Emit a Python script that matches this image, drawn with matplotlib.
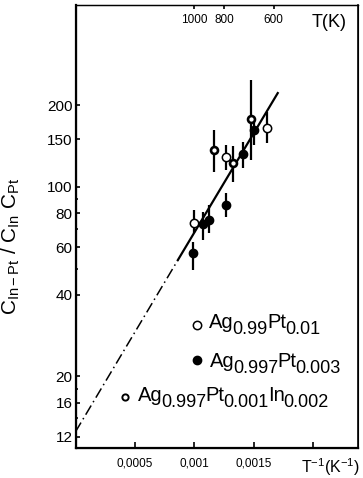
import numpy as np
import matplotlib

matplotlib.use("Agg")
import matplotlib.pyplot as plt
import matplotlib.transforms as mtransforms
from matplotlib.ticker import FixedLocator, NullFormatter

plt.rcParams["font.family"] = ["Liberation Sans", "DejaVu Sans"]
plt.rcParams["mathtext.fontset"] = "custom"
plt.rcParams["mathtext.rm"] = "Liberation Sans"
plt.rcParams["mathtext.it"] = "Liberation Sans"
plt.rcParams["mathtext.default"] = "regular"

# Ag0.99Pt0.01 (open circles)
x_open = [0.000996, 0.001269, 0.001612]
y_open = [73.5, 129.0, 165.1]
lo_open = [67.7, 115.5, 145.3]
hi_open = [82.2, 142.9, 189.1]

# Ag0.997Pt0.003 (filled circles)
x_fill = [0.000990, 0.001071, 0.001118, 0.001269, 0.001405, 0.001504]
y_fill = [56.9, 73.0, 75.5, 85.8, 132.4, 162.3]
lo_fill = [49.4, 63.7, 67.7, 77.5, 117.5, 142.9]
hi_fill = [62.7, 80.8, 85.8, 95.0, 146.6, 176.7]

# Ag0.997Pt0.001In0.002 (small thick circles)
x_in = [0.001168, 0.001323, 0.001475]
y_in = [136.4, 122.3, 178.2]
lo_in = [113.6, 104.3, 125.8]
hi_in = [162.3, 141.7, 248.2]

# fitted line: dash-dot extrapolation and solid part
fit_dash_x = [0.0, 0.000861]
fit_dash_y = [12.5, 53.8]
fit_solid_x = [0.000861, 0.0017]
fit_solid_y = [53.8, 222.0]

y_ticks = [12, 16, 20, 40, 60, 80, 100, 150, 200]
y_minor = [14, 18, 50, 70, 90]
x_ticks = [0.0005, 0.001, 0.0015, 0.002]
x_tick_labels = ["0,0005", "0,001", "0,0015", ""]
T_ticks = [1000, 800, 600]

# legend labels as (piece, is_subscript)
lab_open = [("Ag", False), ("0.99", True), ("Pt", False), ("0.01", True)]
lab_fill = [("Ag", False), ("0.997", True), ("Pt", False), ("0.003", True)]
lab_in = [("Ag", False), ("0.997", True), ("Pt", False), ("0.001", True), ("In", False), ("0.002", True)]

fig = plt.figure(figsize=(3.63, 4.78), dpi=100)
ax = fig.add_axes([0.208, 0.063, 0.778, 0.927])
ax.set_yscale("log")
ax.set_xlim(0, 0.002374)
ax.set_ylim(10.9, 470)


def draw_err(x, y, lo, hi):
    y = np.array(y)
    err = [y - np.array(lo), np.array(hi) - y]
    ax.errorbar(x, y, yerr=err, fmt="none", ecolor="black", elinewidth=1.6, capsize=0, zorder=2)


draw_err(x_open, y_open, lo_open, hi_open)
draw_err(x_fill, y_fill, lo_fill, hi_fill)
draw_err(x_in, y_in, lo_in, hi_in)

ax.plot(fit_solid_x, fit_solid_y, color="black", linewidth=1.6, zorder=3)
ax.plot(fit_dash_x, fit_dash_y, color="black", linewidth=1.1, linestyle=(0, (7, 2.5, 1, 2.5)), zorder=3)

ax.plot(x_open, y_open, "o", ms=6, mfc="white", mec="black", mew=1.1, zorder=4)
ax.plot(x_fill, y_fill, "o", ms=6, mfc="black", mec="black", zorder=4)
ax.plot(x_in, y_in, "o", ms=5, mfc="white", mec="black", mew=1.9, zorder=4)

ax.yaxis.set_major_locator(FixedLocator(y_ticks))
ax.yaxis.set_minor_locator(FixedLocator(y_minor))
ax.yaxis.set_minor_formatter(NullFormatter())
ax.set_yticklabels([str(v) for v in y_ticks])
ax.set_xticks(x_ticks)
ax.set_xticklabels(x_tick_labels)
ax.tick_params(axis="y", which="major", direction="in", length=3, width=1.2, labelsize=11, pad=2)
ax.tick_params(axis="y", which="minor", direction="in", length=1.5, width=1.2)
ax.tick_params(axis="x", direction="in", length=4, width=1.2, labelsize=8.5, pad=7)
ax.tick_params(right=False, top=False)

for side, lw in [("left", 1.6), ("bottom", 1.6), ("top", 0.9), ("right", 1.2)]:
    ax.spines[side].set_linewidth(lw)

ax2 = ax.twiny()
ax2.set_xlim(ax.get_xlim())
ax2.set_xticks(1 / np.array(T_ticks, dtype=float))
ax2.set_xticklabels([str(t) for t in T_ticks])
ax2.tick_params(axis="x", direction="in", length=3, width=1.2, labelsize=8.5, pad=-15)
ax2.spines["top"].set_linewidth(0.9)

ax.text(0.837, 0.950, "T(K)", transform=ax.transAxes, fontsize=13, ha="left", va="baseline")
ax.text(0.800, -0.056, r"$T^{-1}(K^{-1})$", transform=ax.transAxes, fontsize=11.5,
        ha="left", va="baseline", clip_on=False)

ax.set_ylabel(r"$C_{In-Pt}\ /\ C_{In}\ C_{Pt}$", fontsize=15)
ax.yaxis.set_label_coords(-0.19, 0.454)


def rich_text(x, y, parts):
    # chemical formula with large subscripts, piece by piece
    renderer = fig.canvas.get_renderer()
    dx = 0.0
    for s, sub in parts:
        tr = mtransforms.offset_copy(ax.transAxes, fig=fig, x=dx, y=-6.5 if sub else 0, units="dots")
        t = ax.text(x, y, s, transform=tr, fontsize=13 if sub else 14.5, ha="left", va="baseline")
        dx += t.get_window_extent(renderer).width - 1.0


# legend written as text
ax.plot([0.430], [0.278], "o", ms=6, mfc="white", mec="black", mew=1.1, transform=ax.transAxes)
rich_text(0.473, 0.271, lab_open)
ax.plot([0.430], [0.199], "o", ms=6, mfc="black", mec="black", transform=ax.transAxes)
rich_text(0.476, 0.183, lab_fill)
ax.plot([0.175], [0.115], "o", ms=4.5, mfc="white", mec="black", mew=1.4, transform=ax.transAxes)
rich_text(0.221, 0.106, lab_in)

fig.savefig("out.png", dpi=100)
